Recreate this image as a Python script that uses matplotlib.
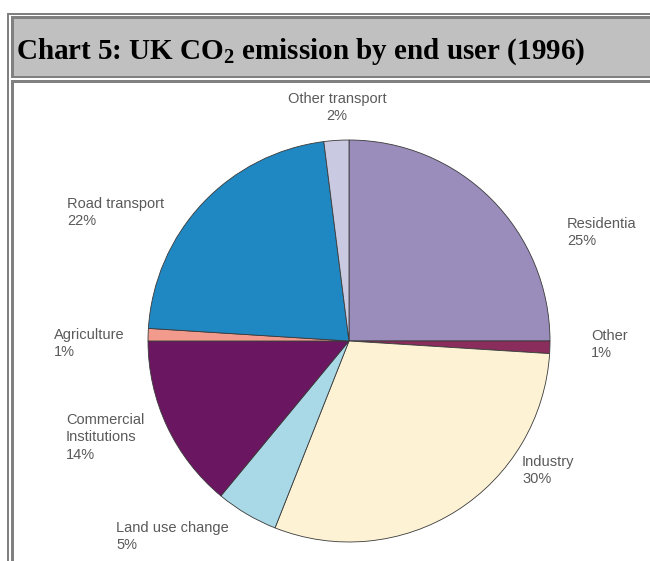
import matplotlib
matplotlib.use("Agg")
import matplotlib.pyplot as plt
from matplotlib.patches import Rectangle

# slices, clockwise from 12 o'clock
labels = ["Residentia", "Other", "Industry", "Land use change",
          "Commercial\nInstitutions", "Agriculture", "Road transport", "Other transport"]
shares = [25, 1, 30, 5, 14, 1, 22, 2]
colors = ["#9a8cbb", "#8a2c5c", "#fdf3d4", "#a9d8e6",
          "#6b1660", "#f29a8c", "#1f87c1", "#c9c9e1"]

# label anchor points in pixels (x, top y) and alignment
label_pos = [(567, 217, "left"), (591, 329, "left"), (522, 455, "left"), (116, 521, "left"),
             (66, 413, "left"), (54, 328, "left"), (67, 197, "left"), (337, 92, "center")]

W, H = 650, 561
fig = plt.figure(figsize=(W / 100, H / 100), dpi=100)
fig.patch.set_facecolor("white")

# frame / table look drawn in pixel space
bg = fig.add_axes([0, 0, 1, 1])
bg.set_xlim(0, W)
bg.set_ylim(H, 0)
bg.axis("off")
grey = "#808080"
bg.add_patch(Rectangle((7, 13), W, 2, color=grey, lw=0))
bg.add_patch(Rectangle((7, 13), 2, H, color=grey, lw=0))
# title cell
bg.add_patch(Rectangle((11, 16), W, 62, color=grey, lw=0))
bg.add_patch(Rectangle((14, 19), W, 57, color="#c0c0c0", lw=0))
# chart cell
bg.add_patch(Rectangle((11, 80), W, H, color=grey, lw=0))
bg.add_patch(Rectangle((14, 83), W, H, color="white", lw=0))

plt.rcParams["mathtext.fontset"] = "custom"
plt.rcParams["mathtext.rm"] = "Liberation Serif:bold"
bg.text(16, 59, r"Chart 5: UK CO$_\mathrm{2}$ emission by end user (1996)",
        family="Liberation Serif", weight="bold", fontsize=21, va="baseline", ha="left")

cx, cy, r = 349, 341, 203
ax = fig.add_axes([(cx - r) / W, (H - cy - r) / H, 2 * r / W, 2 * r / H])
ax.pie(shares, colors=colors, startangle=90, counterclock=False, radius=1,
       wedgeprops=dict(edgecolor="#3a3a3a", linewidth=0.6))
ax.set_xlim(-1.01, 1.01)
ax.set_ylim(-1.01, 1.01)

for lab, val, (x, y, ha) in zip(labels, shares, label_pos):
    bg.text(x, y, f"{lab}\n{val}%", ha=ha, va="top", family="Liberation Sans",
            fontsize=10.5, color="#5a5a5a", linespacing=1.3)

fig.savefig("out.png", dpi=100, facecolor="white")
